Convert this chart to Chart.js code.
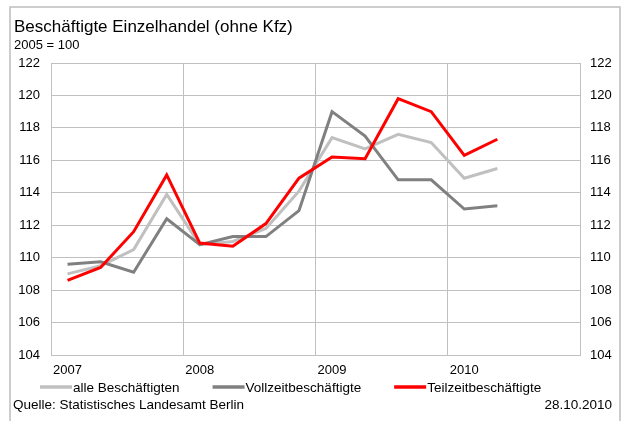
<!DOCTYPE html>
<html>
<head>
<meta charset="utf-8">
<script src="https://cdn.jsdelivr.net/npm/chart.js@4.4.0/dist/chart.umd.min.js"></script>
<style>
  html, body { margin: 0; padding: 0; background: #fff; }
  #wrap { width: 621px; height: 421px; }
</style>
</head>
<body>
<div id="wrap"><canvas id="myChart" width="621" height="421"></canvas></div>
<script>
// Quarterly index values, 2005 = 100
const quarters = [
  '2007 Q1', '2007 Q2', '2007 Q3', '2007 Q4',
  '2008 Q1', '2008 Q2', '2008 Q3', '2008 Q4',
  '2009 Q1', '2009 Q2', '2009 Q3', '2009 Q4',
  '2010 Q1', '2010 Q2', '2010 Q3', '2010 Q4'
];
const yearLabels = ['2007', '2008', '2009', '2010'];

const alleBeschaeftigten = [109.0, 109.5, 110.5, 113.9, 110.8, 111.0, 111.8, 114.1, 117.4, 116.7, 117.6, 117.1, 114.9, 115.5];
const vollzeit = [109.6, 109.75, 109.1, 112.4, 110.8, 111.3, 111.3, 112.9, 119.0, 117.5, 114.8, 114.8, 113.0, 113.2];
const teilzeit = [108.6, 109.4, 111.6, 115.1, 110.9, 110.7, 112.1, 114.9, 116.2, 116.1, 119.8, 119.0, 116.3, 117.3];

const yMin = 104;
const yMax = 122;
const yStep = 2;

const FONT = '"Liberation Sans", Arial, sans-serif';
const GRID = '#c0c0c0';

// title, source line, legend and outer frame
const decorations = {
  id: 'decorations',
  afterDraw(chart) {
    const ctx = chart.ctx;
    ctx.save();
    ctx.strokeStyle = '#bdbdbd';
    ctx.lineWidth = 1.5;
    ctx.beginPath();
    ctx.moveTo(10, 421);
    ctx.lineTo(10, 7);
    ctx.lineTo(620, 7);
    ctx.lineTo(620, 421);
    ctx.stroke();

    ctx.fillStyle = '#000';
    ctx.textBaseline = 'alphabetic';
    ctx.font = '17px ' + FONT;
    ctx.fillText('Beschäftigte Einzelhandel (ohne Kfz)', 14, 32);
    ctx.font = '13px ' + FONT;
    ctx.fillText('2005 = 100', 14, 49);

    ctx.font = '13.5px ' + FONT;
    ctx.fillText('Quelle: Statistisches Landesamt Berlin', 13, 409);
    ctx.textAlign = 'right';
    ctx.fillText('28.10.2010', 612, 409);

    ctx.textAlign = 'left';
    let x = 40;
    chart.data.datasets.forEach(ds => {
      ctx.strokeStyle = ds.borderColor;
      ctx.lineWidth = 3.5;
      ctx.beginPath();
      ctx.moveTo(x, 387);
      ctx.lineTo(x + 32, 387);
      ctx.stroke();
      x += 33;
      ctx.fillText(ds.label, x, 391.5);
      x += ctx.measureText(ds.label).width + 33;
    });
    ctx.restore();
  }
};

const tickFont = { family: FONT, size: 13 };

new Chart(document.getElementById('myChart'), {
  type: 'line',
  data: {
    labels: quarters,
    datasets: [
      { label: 'alle Beschäftigten', data: alleBeschaeftigten, borderColor: '#c0c0c0', order: 2 },
      { label: 'Vollzeitbeschäftigte', data: vollzeit, borderColor: '#808080', order: 1 },
      { label: 'Teilzeitbeschäftigte', data: teilzeit, borderColor: '#ff0000', order: 0 }
    ]
  },
  options: {
    responsive: false,
    animation: false,
    devicePixelRatio: 1,
    layout: { padding: { top: 63, bottom: 41, left: 0, right: 0 } },
    elements: {
      line: { borderWidth: 3, tension: 0, borderJoinStyle: 'miter' },
      point: { radius: 0 }
    },
    plugins: {
      legend: { display: false },
      tooltip: { enabled: false }
    },
    scales: {
      x: {
        offset: true,
        afterFit: s => { s.height = 25; },
        grid: {
          offset: true,
          drawTicks: false,
          color: c => (c.index !== undefined && c.index % 4 === 0) ? GRID : 'rgba(0,0,0,0)'
        },
        border: { color: GRID },
        ticks: {
          autoSkip: false,
          maxRotation: 0,
          padding: 8,
          color: '#000',
          font: tickFont,
          callback: (v, i) => i % 4 === 0 ? yearLabels[i / 4] : ''
        }
      },
      y: {
        min: yMin, max: yMax,
        afterFit: s => { s.width = 51; },
        grid: { color: GRID, drawTicks: false },
        border: { color: GRID },
        ticks: { stepSize: yStep, padding: 11, color: '#000', font: tickFont }
      },
      y2: {
        position: 'right',
        min: yMin, max: yMax,
        afterFit: s => { s.width = 41; },
        grid: { display: false, drawTicks: false },
        border: { color: GRID },
        ticks: { stepSize: yStep, padding: 10, color: '#000', font: tickFont }
      }
    }
  },
  plugins: [decorations]
});
</script>
</body>
</html>
